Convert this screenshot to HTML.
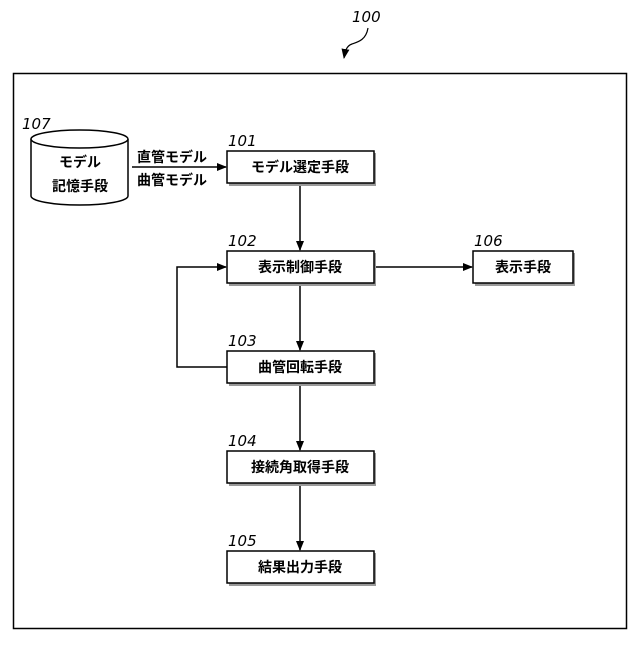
<!DOCTYPE html>
<html><head><meta charset="utf-8"><style>
body{margin:0;background:#fff}
text{font-family:"Liberation Sans","Noto Sans CJK JP",sans-serif}
.b{font-size:14px;font-weight:bold;text-anchor:middle}
.n{font-size:15px;font-style:italic;font-family:"DejaVu Sans","Liberation Sans",sans-serif}
</style></head><body>
<svg width="640" height="640" viewBox="0 0 640 640" xmlns="http://www.w3.org/2000/svg">
<defs><marker id="a" markerWidth="10" markerHeight="10" refX="9" refY="5" orient="auto" markerUnits="userSpaceOnUse"><path d="M0,1 L10,5 L0,9 Z" fill="#000"/></marker></defs>
<rect x="13.5" y="73.5" width="613" height="555" fill="none" stroke="#000" stroke-width="1.5"/>
<text class="n" x="352" y="22">100</text>
<path d="M368,28 C366,40 358,42 352,44 C346,46 345,52 344,58" fill="none" stroke="#000" stroke-width="1.2" marker-end="url(#a)"/>
<!-- cylinder -->
<path d="M31,139 L31,196 A48.5,9 0 0 0 128,196 L128,139" fill="#fff" stroke="#000" stroke-width="1.5"/>
<ellipse cx="79.5" cy="139" rx="48.5" ry="9" fill="#fff" stroke="#000" stroke-width="1.5"/>
<text class="n" x="22" y="129">107</text>
<text class="b" x="80" y="167">モデル</text>
<text class="b" x="80" y="191">記憶手段</text>
<text x="137" y="162" style="font-size:14px;font-weight:bold">直管モデル</text>
<text x="137" y="185" style="font-size:14px;font-weight:bold">曲管モデル</text>
<line x1="132" y1="167" x2="226" y2="167" stroke="#000" stroke-width="1.5" marker-end="url(#a)"/>
<g stroke="#000" stroke-width="1.5" fill="none">
<line x1="300" y1="184" x2="300" y2="250" marker-end="url(#a)"/>
<line x1="300" y1="284" x2="300" y2="350" marker-end="url(#a)"/>
<line x1="300" y1="384" x2="300" y2="450" marker-end="url(#a)"/>
<line x1="300" y1="484" x2="300" y2="550" marker-end="url(#a)"/>
<line x1="375" y1="267" x2="472" y2="267" marker-end="url(#a)"/>
<path d="M227,367 L177,367 L177,267 L226,267" marker-end="url(#a)"/>
</g>
<g fill="#999">
<rect x="229" y="153" width="147" height="33"/><rect x="229" y="253" width="147" height="33"/>
<rect x="229" y="353" width="147" height="33"/><rect x="229" y="453" width="147" height="33"/>
<rect x="229" y="553" width="147" height="33"/><rect x="475" y="253" width="100" height="33"/>
</g>
<g fill="#fff" stroke="#000" stroke-width="1.5">
<rect x="227" y="151" width="147" height="32"/><rect x="227" y="251" width="147" height="32"/>
<rect x="227" y="351" width="147" height="32"/><rect x="227" y="451" width="147" height="32"/>
<rect x="227" y="551" width="147" height="32"/><rect x="473" y="251" width="100" height="32"/>
</g>
<text class="n" x="228" y="146">101</text><text class="n" x="228" y="246">102</text>
<text class="n" x="228" y="346">103</text><text class="n" x="228" y="446">104</text>
<text class="n" x="228" y="546">105</text><text class="n" x="474" y="246">106</text>
<text class="b" x="300" y="172">モデル選定手段</text>
<text class="b" x="300" y="272">表示制御手段</text>
<text class="b" x="300" y="372">曲管回転手段</text>
<text class="b" x="300" y="472">接続角取得手段</text>
<text class="b" x="300" y="572">結果出力手段</text>
<text class="b" x="523" y="272">表示手段</text>
</svg>
</body></html>
